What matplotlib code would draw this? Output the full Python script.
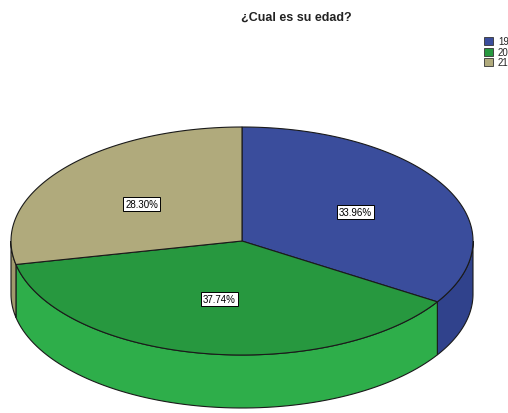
import numpy as np
import matplotlib
matplotlib.use("Agg")
import matplotlib.pyplot as plt
from matplotlib.patches import Polygon, Rectangle

plt.rcParams['font.family'] = ['Liberation Sans', 'DejaVu Sans']

# Data
categories = ['19', '20', '21']
percents = [33.96, 37.74, 28.30]
title = '¿Cual es su edad?'

top_colors = ['#3a4d9c', '#27983f', '#b0aa7c']
side_colors = ['#30428c', '#2eae4a', '#a09a6c']

W, H = 508, 414
fig = plt.figure(figsize=(W / 100, H / 100), dpi=100)
ax = fig.add_axes([0, 0, 1, 1])
ax.set_xlim(0, W)
ax.set_ylim(H, 0)
ax.axis('off')

# Ellipse geometry of the pie (pixel units)
cx, cy = 242, 242
a, b = 231, 114
depth = 53


def ell(theta_deg):
    t = np.radians(theta_deg)
    return cx + a * np.cos(t), cy - b * np.sin(t)


# slice angles: start at 12 o'clock, go clockwise
fracs = np.array(percents) / sum(percents)
starts = 90 - 360 * np.concatenate([[0], np.cumsum(fracs)[:-1]])
ends = starts - 360 * fracs

# side walls (front half: angles between -180 and 0)
for s, e, col in zip(starts, ends, side_colors):
    lo, hi = max(e, -180), min(s, 0)
    if lo >= hi:
        continue
    th = np.linspace(hi, lo, 80)
    xs, ys = ell(th)
    pts = np.column_stack([np.concatenate([xs, xs[::-1]]),
                           np.concatenate([ys, ys[::-1] + depth])])
    ax.add_patch(Polygon(pts, closed=True, facecolor=col,
                         edgecolor='#1a1a1a', linewidth=0.8, zorder=1))

# top faces
for s, e, col in zip(starts, ends, top_colors):
    th = np.linspace(s, e, 120)
    xs, ys = ell(th)
    pts = np.column_stack([np.concatenate([[cx], xs]),
                           np.concatenate([[cy], ys])])
    ax.add_patch(Polygon(pts, closed=True, facecolor=col,
                         edgecolor='#1a1a1a', linewidth=0.8, zorder=2))

# percentage labels
for s, e, p in zip(starts, ends, percents):
    mid = (s + e) / 2
    t = np.radians(mid)
    lx = cx + 0.56 * a * np.cos(t)
    ly = cy - 0.52 * b * np.sin(t)
    ax.text(lx, ly, f'{p:.2f}%', fontsize=7, ha='center', va='center',
            zorder=5,
            bbox=dict(boxstyle='square,pad=0.2', facecolor='white',
                      edgecolor='black', linewidth=0.7))

ax.text(296, 18, title, fontsize=9, fontweight='bold',
        ha='center', va='center', color='#222222')

# legend (runs off the right edge)
for i, (cat, col) in enumerate(zip(categories, top_colors)):
    y0 = 38 + i * 10.5
    ax.add_patch(Rectangle((484, y0), 9, 8, facecolor=col,
                           edgecolor='#333333', linewidth=0.6, zorder=5))
    ax.text(498, y0 + 4, cat, fontsize=7, ha='left', va='center',
            color='#222222')

fig.savefig('out.png', dpi=100)
